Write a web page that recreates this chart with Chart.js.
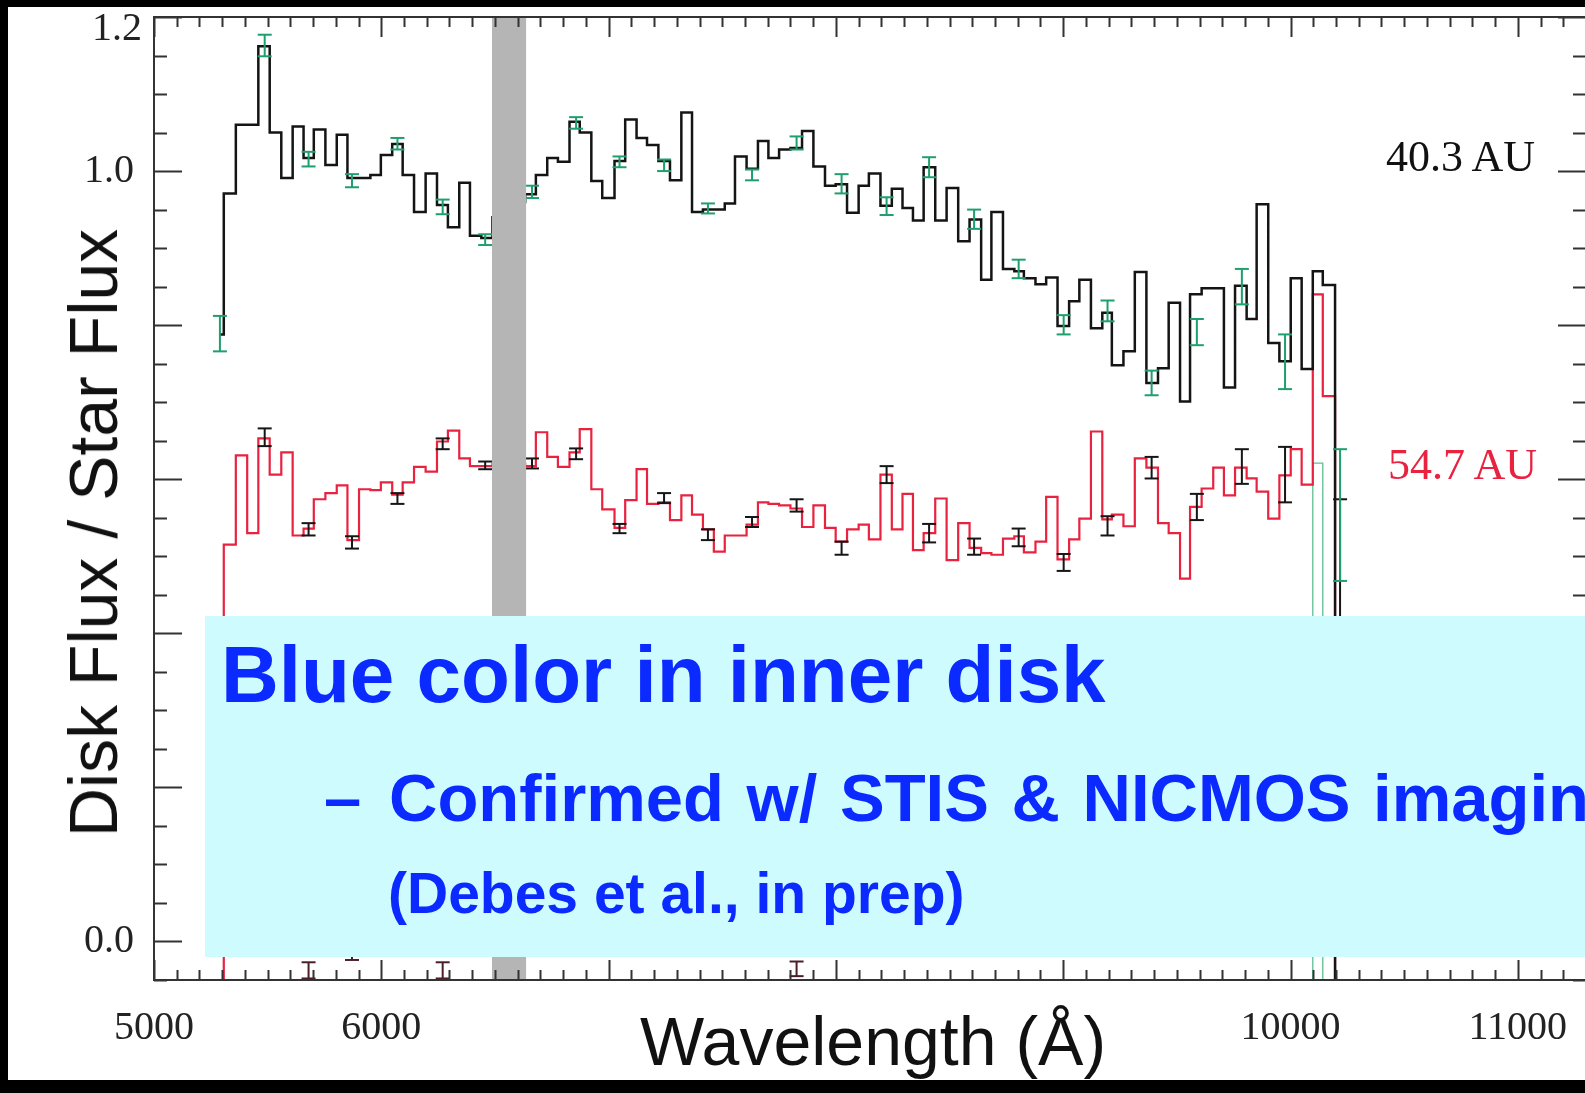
<!DOCTYPE html>
<html>
<head>
<meta charset="utf-8">
<title>Disk Flux / Star Flux</title>
<script src="https://cdn.jsdelivr.net/npm/chart.js@4.4.1/dist/chart.umd.min.js"></script>
<style>
  html, body { margin: 0; padding: 0; }
  body { width: 1585px; height: 1093px; background: #000; overflow: hidden; position: relative; font-family: 'Liberation Sans', Arial, sans-serif; }
  #sheet { position: absolute; left: 8px; top: 7px; width: 1577px; height: 1073px; background: #fff; }
  #chart { position: absolute; left: 0; top: 0; }
  .t { position: absolute; white-space: nowrap; line-height: 1; }
  .axis-title { font-size: 68px; color: #111; }
  .ytitle { left: 93px; top: 533px; transform: translate(-50%, -50%) rotate(-90deg); }
  .xtitle { left: 873px; top: 1007px; transform: translateX(-50%); }
  .series-label { font-family: 'Liberation Serif', 'Times New Roman', serif; font-size: 44px; }
  #note { position: absolute; left: 205px; top: 616px; width: 1380px; height: 341px; background: #cdfbfe; }
  .note { font-weight: bold; color: #0a2aff; }
</style>
</head>
<body>
<div id="sheet"></div>
<canvas id="chart" width="1600" height="1093"></canvas>
<div class="t axis-title ytitle">Disk Flux / Star Flux</div>
<div class="t axis-title xtitle">Wavelength (Å)</div>
<div class="t series-label" style="left:1386px; top:135px; color:#111;">40.3 AU</div>
<div class="t series-label" style="left:1388px; top:443px; color:#e8223f;">54.7 AU</div>
<div id="note"></div>
<div class="t note" style="left:221px; top:635px; font-size:80px;">Blue color in inner disk</div>
<div class="t note" style="left:324px; top:764px; font-size:67px;">–</div>
<div class="t note" style="left:389px; top:764px; font-size:67px; word-spacing:4px;">Confirmed w/ STIS &amp; NICMOS imaging</div>
<div class="t note" style="left:388px; top:865px; font-size:57px;">(Debes et al., in prep)</div>

<script>
// axis ranges and labelled ticks
const xRange = [5000, 11300];
const yRange = [-0.05, 1.2];
const xTickLabels = [5000, 6000, 10000, 11000];
const yTickLabels = [0.0, 1.0];
const yTopLabel = [1.2];

// bin edges (Angstrom), shared by both spectra
const binEdges = [5290, 5307, 5360, 5410, 5459, 5509, 5560, 5610, 5658, 5703, 5754, 5804, 5851, 5902, 5952, 5998,
    6048, 6094, 6144, 6195, 6245, 6293, 6343, 6390, 6440, 6489, 6538, 6587, 6633, 6680, 6730, 6777, 6828, 6873,
    6924, 6972, 7026, 7073, 7123, 7169, 7219, 7270, 7320, 7367, 7415, 7463, 7511, 7556, 7607, 7657, 7703, 7750,
    7800, 7851, 7901, 7952, 7999, 8049, 8100, 8145, 8196, 8246, 8293, 8339, 8386, 8437, 8487, 8538, 8588, 8639,
    8684, 8735, 8785, 8827, 8878, 8925, 8975, 9026, 9071, 9122, 9172, 9214, 9265, 9315, 9366, 9417, 9464, 9514,
    9558, 9609, 9660, 9707, 9756, 9807, 9851, 9902, 9951, 10001, 10049, 10098, 10142, 10196];

// 40.3 AU spectrum (black)
const flux403 = [0.788, 0.971, 1.060, 1.060, 1.162, 1.050, 0.991, 1.058, 1.017, 1.054, 1.008, 1.047, 0.991, 0.991,
    0.995, 1.021, 1.035, 0.995, 0.947, 0.997, 0.956, 0.927, 0.985, 0.916, 0.913, 0.940, 0.950, 0.960, 0.970, 0.995,
    1.017, 1.012, 1.064, 1.050, 0.987, 0.965, 1.013, 1.067, 1.043, 1.034, 1.013, 0.988, 1.076, 0.947, 0.950, 0.950,
    0.958, 1.019, 1.003, 1.039, 1.017, 1.028, 1.030, 1.052, 1.006, 0.981, 0.983, 0.946, 0.981, 0.997, 0.955, 0.977,
    0.952, 0.936, 1.005, 0.936, 0.978, 0.909, 0.937, 0.859, 0.947, 0.873, 0.870, 0.861, 0.853, 0.862, 0.799, 0.831,
    0.859, 0.796, 0.816, 0.748, 0.766, 0.869, 0.725, 0.744, 0.829, 0.701, 0.840, 0.848, 0.848, 0.719, 0.851, 0.808,
    0.957, 0.777, 0.753, 0.861, 0.743, 0.870, 0.852];

// 54.7 AU spectrum (red)
const flux547 = [-0.05, 0.515, 0.631, 0.530, 0.653, 0.606, 0.635, 0.527, 0.536, 0.574, 0.582, 0.592, 0.521, 0.587,
    0.586, 0.596, 0.580, 0.596, 0.616, 0.610, 0.649, 0.663, 0.627, 0.617, 0.617, 0.620, 0.620, 0.620, 0.617, 0.661,
    0.629, 0.616, 0.635, 0.665, 0.587, 0.561, 0.537, 0.573, 0.613, 0.568, 0.570, 0.547, 0.579, 0.554, 0.535, 0.506,
    0.527, 0.527, 0.541, 0.570, 0.568, 0.566, 0.562, 0.538, 0.566, 0.537, 0.519, 0.535, 0.541, 0.522, 0.606, 0.535,
    0.581, 0.508, 0.530, 0.575, 0.495, 0.543, 0.511, 0.504, 0.502, 0.523, 0.526, 0.505, 0.519, 0.577, 0.496, 0.522,
    0.549, 0.662, 0.548, 0.554, 0.539, 0.627, 0.615, 0.543, 0.530, 0.471, 0.564, 0.588, 0.615, 0.579, 0.615, 0.601,
    0.584, 0.549, 0.605, 0.639, 0.593, 0.840, 0.708];

// thin green bin at the red end
const tailEdges = [10098, 10142];
const tailFlux = [0.621];

// error bars
const barWave = [5290, 5487, 5680, 5871, 6071, 6270, 6457, 6663, 6857, 7048, 7244, 7437, 7631, 7827, 8025, 8223,
    8410, 8608, 8804, 9002, 9195, 9389, 9588, 9786, 9976, 10218];
const err403Low = [0.766, 1.149, 1.006, 0.979, 1.028, 0.944, 0.904, 0.965, 1.055, 1.005, 1.000, 0.945, 0.988, 1.028,
    0.971, 0.943, 0.992, 0.925, 0.861, 0.788, 0.805, 0.709, 0.774, 0.827, 0.717, 0.468];
const err403High = [0.812, 1.177, 1.025, 0.996, 1.043, 0.963, 0.918, 0.981, 1.070, 1.019, 1.015, 0.958, 1.002, 1.045,
    0.996, 0.966, 1.018, 0.950, 0.885, 0.813, 0.832, 0.741, 0.808, 0.873, 0.788, 0.639];
const err547Low = [null, 0.643, 0.527, 0.510, 0.568, 0.639, 0.613, 0.614, 0.626, 0.530, 0.569, 0.521, 0.538, 0.558,
    0.502, 0.595, 0.518, 0.502, 0.513, 0.481, 0.527, 0.601, 0.547, 0.594, 0.570, 0.350];
const err547High = [null, 0.666, 0.543, 0.526, 0.582, 0.653, 0.623, 0.627, 0.640, 0.542, 0.582, 0.535, 0.551, 0.574,
    0.519, 0.617, 0.542, 0.523, 0.536, 0.503, 0.552, 0.629, 0.581, 0.639, 0.642, 0.574];

// bars of the covered curve peeking out under the box
const lowBarWave = [5680, 5871, 6270, 7827];
const lowBarLow = [-0.048, -0.024, -0.048, -0.045];
const lowBarHigh = [-0.027, 0.020, -0.027, -0.026];

// masked wavelength range (grey band)
const maskRange = [6487, 6637];

function stepPoints(edges, vals, dropStart) {
    const pts = [];
    if (dropStart) pts.push({ x: edges[0], y: yRange[0] });
    vals.forEach((v, i) => pts.push({ x: edges[i], y: v }));
    const last = edges[edges.length - 1];
    pts.push({ x: last, y: vals[vals.length - 1] });
    pts.push({ x: last, y: yRange[0] });
    return pts;
}

function barPoints(xs, lo, hi) {
    const pts = [];
    xs.forEach((x, i) => {
        if (lo[i] === null) return;
        pts.push({ x: x, y: lo[i] }, { x: x, y: hi[i] }, { x: x, y: null });
    });
    return pts;
}

function errorSet(data, color) {
    return {
        data: data,
        borderColor: color,
        borderWidth: 2,
        pointStyle: 'line',
        pointRadius: 7,
        pointBorderWidth: 2,
        pointBorderColor: color,
        spanGaps: false
    };
}

const axisFrame = {
    id: 'axisFrame',
    afterDatasetsDraw(chart) {
        const { ctx, chartArea: a, scales: { x, y } } = chart;
        ctx.save();
        ctx.fillStyle = '#b5b5b5';
        const m0 = x.getPixelForValue(maskRange[0]);
        const m1 = x.getPixelForValue(maskRange[1]);
        ctx.fillRect(m0, a.top, m1 - m0, a.bottom - a.top);

        ctx.strokeStyle = '#333';
        ctx.lineWidth = 2;
        ctx.strokeRect(a.left, a.top, a.right - a.left, a.bottom - a.top);

        ctx.beginPath();
        for (let w = xRange[0]; w <= xRange[1]; w += 100) {
            const px = Math.round(x.getPixelForValue(w)) + 0.5;
            const len = w % 1000 === 0 ? 20 : 10;
            ctx.moveTo(px, a.bottom); ctx.lineTo(px, a.bottom - len);
            ctx.moveTo(px, a.top); ctx.lineTo(px, a.top + len);
        }
        for (let k = -1; k <= 24; k++) {
            const py = Math.round(y.getPixelForValue(k * 0.05)) + 0.5;
            const len = k % 4 === 0 ? 28 : 13;
            ctx.moveTo(a.left, py); ctx.lineTo(a.left + len, py);
            ctx.moveTo(a.right, py); ctx.lineTo(a.right - len, py);
        }
        ctx.stroke();
        ctx.restore();
    }
};

const serif = "'Liberation Serif', 'Times New Roman', serif";
// small lineHeight on the y labels keeps them from pushing the plot area down
const xTickFont = { family: serif, size: 40 };
const yTickFont = { family: serif, size: 40, lineHeight: 0.2 };

new Chart(document.getElementById('chart').getContext('2d'), {
    type: 'line',
    data: {
        datasets: [
            errorSet(barPoints(barWave, err403Low, err403High), '#1f9f6d'),
            errorSet(barPoints(barWave, err547Low, err547High), '#161616'),
            errorSet(barPoints(lowBarWave, lowBarLow, lowBarHigh), '#4a2028'),
            {
                label: '40.3 AU',
                data: stepPoints(binEdges, flux403, false),
                stepped: true,
                borderColor: '#141414',
                borderWidth: 2.5,
                pointRadius: 0
            },
            {
                label: '54.7 AU',
                data: stepPoints(binEdges, flux547, false),
                stepped: true,
                borderColor: '#e8223f',
                borderWidth: 2.2,
                pointRadius: 0
            },
            {
                data: stepPoints(tailEdges, tailFlux, true),
                stepped: true,
                borderColor: '#5fbf92',
                borderWidth: 1.3,
                pointRadius: 0
            }
        ]
    },
    options: {
        responsive: false,
        animation: false,
        events: [],
        layout: { padding: { left: 0, top: 17, right: 14, bottom: 0 } },
        plugins: { legend: { display: false }, tooltip: { enabled: false } },
        scales: {
            x: {
                type: 'linear',
                min: xRange[0],
                max: xRange[1],
                grid: { display: false },
                border: { display: false },
                afterBuildTicks: scale => { scale.ticks = xTickLabels.map(v => ({ value: v })); },
                afterFit: scale => { scale.height = 113; },
                ticks: {
                    autoSkip: false,
                    maxRotation: 0,
                    padding: 16,
                    color: '#222',
                    font: xTickFont,
                    callback: v => String(v)
                }
            },
            y: {
                type: 'linear',
                position: 'left',
                weight: 1,
                min: yRange[0],
                max: yRange[1],
                grid: { display: false },
                border: { display: false },
                afterBuildTicks: scale => { scale.ticks = yTickLabels.map(v => ({ value: v })); },
                afterFit: scale => { scale.width = 154; },
                ticks: {
                    padding: 12,
                    color: '#222',
                    font: yTickFont,
                    callback: v => Number(v).toFixed(1)
                }
            },
            // the top label sits a little below its tick in the original;
            // mirrored so it is not clipped to this zero-width axis
            yTop: {
                type: 'linear',
                position: 'left',
                weight: 0,
                min: yRange[0],
                max: yRange[1],
                grid: { display: false },
                border: { display: false },
                afterBuildTicks: scale => { scale.ticks = yTopLabel.map(v => ({ value: v })); },
                afterFit: scale => { scale.width = 0; },
                ticks: {
                    mirror: true,
                    padding: -62,
                    labelOffset: 12,
                    color: '#222',
                    font: yTickFont,
                    callback: v => Number(v).toFixed(1)
                }
            }
        }
    },
    plugins: [axisFrame]
});
</script>
</body>
</html>
